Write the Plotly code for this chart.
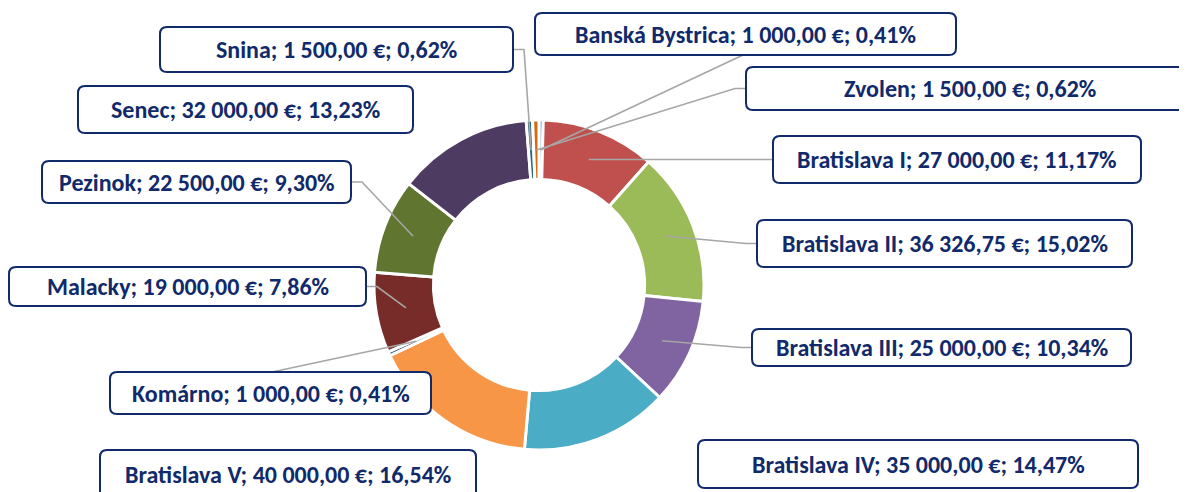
import math
import plotly.graph_objects as go

# ---------------- data ----------------
labels = ["Banská Bystrica", "Bratislava I", "Bratislava II", "Bratislava III",
          "Bratislava IV", "Bratislava V", "Komárno", "Malacky", "Pezinok",
          "Senec", "Snina", "Zvolen"]
values = [1000.00, 27000.00, 36326.75, 25000.00, 35000.00, 40000.00,
          1000.00, 19000.00, 22500.00, 32000.00, 1500.00, 1500.00]
colors = ["#4F81BD", "#C0504D", "#9BBB59", "#8064A2", "#4BACC6", "#F79646",
          "#2C4D75", "#772C2A", "#5F7530", "#4D3B62", "#276A7C", "#D46A14"]

# ---------------- layout (pixels, page coordinates) ----------------
W, H = 1187, 492
OFF = 8  # page body margin
CX, CY, R_OUT, HOLE = 539, 285, 165, 0.64
R_LBL = 135

# label boxes: x0, y0, x1, y1 (px) and where the leader line attaches
boxes = {
    "Banská Bystrica": ((535, 13, 956, 55), "bottom", (743, 55)),
    "Bratislava I":    ((773, 136, 1141, 183), "left", None),
    "Bratislava II":   ((757, 220, 1132, 267), "left", None),
    "Bratislava III":  ((752, 329, 1131, 366), "left", None),
    "Bratislava IV":   ((698, 440, 1138, 488), None, None),
    "Bratislava V":    ((100, 450, 476, 512), None, None),
    "Komárno":         ((110, 372, 431, 414), "top", (272, 372)),
    "Malacky":         ((9, 267, 366, 306), "right", None),
    "Pezinok":         ((42, 161, 351, 203), "right", None),
    "Senec":           ((78, 86, 413, 133), None, None),
    "Snina":           ((160, 27, 513, 72), "right", None),
    "Zvolen":          ((746, 67, 1194, 110), "left", None),
}


def X(px):
    return (px - OFF) / W


def Y(py):
    return 1 - (py - OFF) / H


def fmt_num(v):
    s = f"{v:,.2f}"
    return s.replace(",", " ").replace(".", ",")


total = sum(values)

fig = go.Figure()
fig.add_trace(go.Pie(
    labels=labels, values=values, sort=False, direction="clockwise",
    rotation=0, hole=HOLE, textinfo="none", hoverinfo="label+value+percent",
    marker=dict(colors=colors, line=dict(color="white", width=3)),
    domain=dict(x=[X(CX - R_OUT), X(CX + R_OUT)],
                y=[Y(CY + R_OUT), Y(CY - R_OUT)]),
    showlegend=False,
))

shapes = []
annotations = []
navy = "#102A6B"
gray = "#A6A6A6"
rad = 7

cum = 0.0
for lab, val in zip(labels, values):
    mid = (cum + val / 2) / total * 2 * math.pi
    cum += val
    px = CX + R_LBL * math.sin(mid)
    py = CY - R_LBL * math.cos(mid)
    (x0, y0, x1, y1), side, pt = boxes[lab]
    cyb = (y0 + y1) / 2
    # leader line
    if side == "left":
        pts = [(px, py), (x0 - 11, cyb), (x0, cyb)]
    elif side == "right":
        pts = [(px, py), (x1 + 11, cyb), (x1, cyb)]
    elif side in ("bottom", "top"):
        pts = [(px, py), pt]
    else:
        pts = None
    if pts:
        path = "M " + " L ".join(f"{X(a)},{Y(b)}" for a, b in pts)
        shapes.append(dict(type="path", xref="paper", yref="paper", path=path,
                           line=dict(color=gray, width=1.6), layer="above"))
    # rounded box
    rx, ry = rad / W, rad / H
    a0, a1, b0, b1 = X(x0), X(x1), Y(y1), Y(y0)
    p = (f"M {a0+rx},{b0} L {a1-rx},{b0} Q {a1},{b0} {a1},{b0+ry} "
         f"L {a1},{b1-ry} Q {a1},{b1} {a1-rx},{b1} L {a0+rx},{b1} "
         f"Q {a0},{b1} {a0},{b1-ry} L {a0},{b0+ry} Q {a0},{b0} {a0+rx},{b0} Z")
    shapes.append(dict(type="path", xref="paper", yref="paper", path=p,
                       fillcolor="white", line=dict(color=navy, width=2),
                       layer="above"))
    text = f"{lab}; {fmt_num(val)} €; {val / total * 100:.2f}%".replace(".", ",")
    ty = cyb if lab != "Bratislava V" else 474
    annotations.append(dict(x=X((x0 + x1) / 2), y=Y(ty), xref="paper",
                            yref="paper", text=f"<b>{text}</b>", showarrow=False,
                            xanchor="center", yanchor="middle",
                            font=dict(family="Carlito, Lato, sans-serif",
                                      size=24, color=navy)))

fig.update_layout(
    width=W, height=H, margin=dict(l=0, r=0, t=0, b=0),
    paper_bgcolor="white", plot_bgcolor="white",
    shapes=shapes, annotations=annotations, showlegend=False,
)
fig.write_html("out.html")
